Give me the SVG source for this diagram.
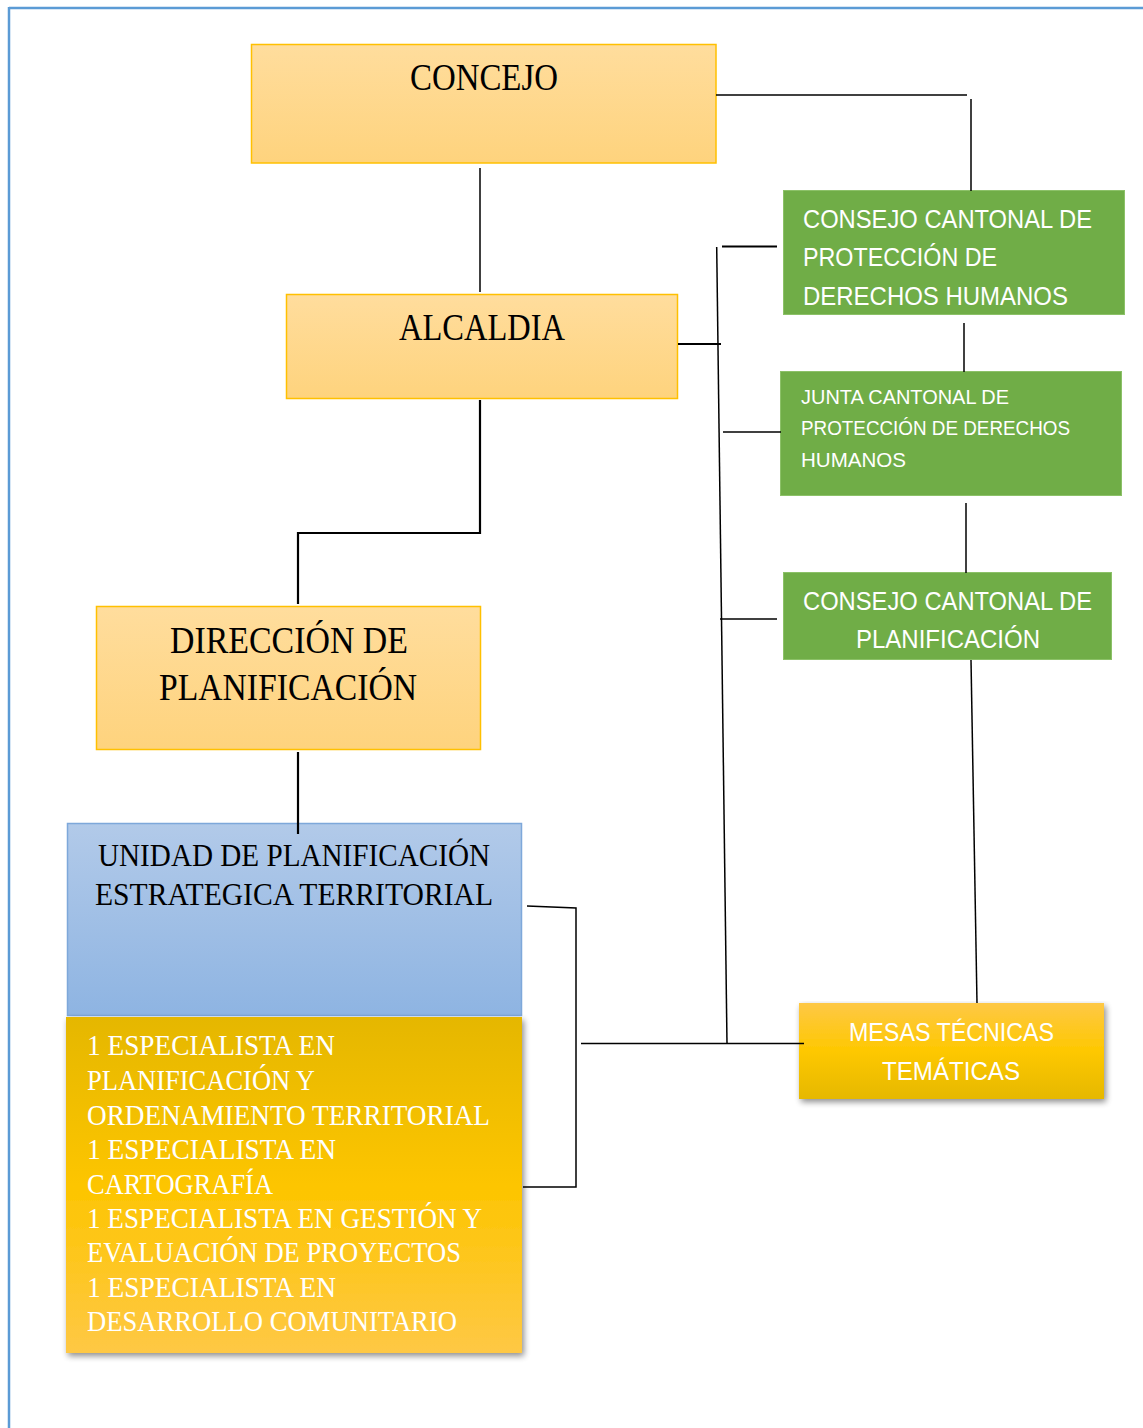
<svg xmlns="http://www.w3.org/2000/svg" width="1143" height="1428" viewBox="0 0 1143 1428">
<defs>
<linearGradient id="gOrange" x1="0" y1="0" x2="0" y2="1">
<stop offset="0" stop-color="#ffdd9d"/><stop offset="1" stop-color="#fed37d"/>
</linearGradient>
<linearGradient id="gBlue" x1="0" y1="0" x2="0" y2="1">
<stop offset="0" stop-color="#b2cae9"/><stop offset="1" stop-color="#8eb4e2"/>
</linearGradient>
<linearGradient id="gGold" x1="0" y1="0" x2="0" y2="1">
<stop offset="0" stop-color="#e5b700"/><stop offset="0.5" stop-color="#fdc500"/><stop offset="1" stop-color="#fec845"/>
</linearGradient>
<linearGradient id="gMesas" x1="0" y1="0" x2="0" y2="1">
<stop offset="0" stop-color="#fec846"/><stop offset="0.5" stop-color="#fec800"/><stop offset="1" stop-color="#e6b800"/>
</linearGradient>
<filter id="shadow" x="-5%" y="-5%" width="115%" height="115%">
<feGaussianBlur in="SourceAlpha" stdDeviation="3"/>
<feOffset dx="2" dy="3" result="b"/>
<feComponentTransfer><feFuncA type="linear" slope="0.45"/></feComponentTransfer>
<feMerge><feMergeNode/><feMergeNode in="SourceGraphic"/></feMerge>
</filter>
</defs>
<style>
.ob{fill:url(#gOrange);stroke:#ffc000;stroke-width:1.5}
.gr{fill:#70ad47;stroke:#8cc168;stroke-width:1}
.ser{font-family:"Liberation Serif","DejaVu Serif",serif;fill:#000}
.serw{font-family:"Liberation Serif","DejaVu Serif",serif;fill:#ffffff;font-size:29.5px}
.san{font-family:"Liberation Sans","DejaVu Sans",sans-serif;fill:#ffffff}
.ln{stroke:#000;stroke-width:1.5;fill:none}
.lk{stroke:#000;stroke-width:2.2;fill:none}
</style>
<rect x="0" y="0" width="1143" height="1428" fill="#ffffff"/>
<g id="page-border" fill="none" stroke="#5b9bd5" stroke-width="2.5">
<line x1="9" y1="8" x2="1143" y2="8"/>
<line x1="9" y1="7" x2="9" y2="1428"/>
</g>
<g id="concejo">
<rect class="ob" x="251.5" y="44.5" width="464.5" height="118.5"/>
<text class="ser" x="484" y="90" font-size="37" text-anchor="middle" textLength="148" lengthAdjust="spacingAndGlyphs">CONCEJO</text>
</g>
<g id="alcaldia">
<rect class="ob" x="286.5" y="294.5" width="391" height="104"/>
<text class="ser" x="482" y="340" font-size="37" text-anchor="middle" textLength="166" lengthAdjust="spacingAndGlyphs">ALCALDIA</text>
</g>
<g id="direccion">
<rect class="ob" x="96.5" y="606.5" width="384" height="143"/>
<text class="ser" x="289" y="653" font-size="37" text-anchor="middle" textLength="238" lengthAdjust="spacingAndGlyphs">DIRECCIÓN DE</text>
<text class="ser" x="288" y="700" font-size="37" text-anchor="middle" textLength="258" lengthAdjust="spacingAndGlyphs">PLANIFICACIÓN</text>
</g>
<g id="unidad">
<rect x="67.5" y="823.5" width="454" height="192" fill="url(#gBlue)" stroke="#7ea8da" stroke-width="1.5"/>
<text class="ser" x="294" y="866" font-size="32" text-anchor="middle" textLength="392" lengthAdjust="spacingAndGlyphs">UNIDAD DE PLANIFICACIÓN</text>
<text class="ser" x="294" y="905" font-size="32" text-anchor="middle" textLength="398" lengthAdjust="spacingAndGlyphs">ESTRATEGICA TERRITORIAL</text>
</g>
<g id="especialistas">
<rect x="66" y="1017" width="456" height="336" fill="url(#gGold)" filter="url(#shadow)"/>
<text class="serw" x="87" y="1055" textLength="248" lengthAdjust="spacingAndGlyphs">1 ESPECIALISTA EN</text>
<text class="serw" x="87" y="1090" textLength="228" lengthAdjust="spacingAndGlyphs">PLANIFICACIÓN Y</text>
<text class="serw" x="87" y="1125" textLength="403" lengthAdjust="spacingAndGlyphs">ORDENAMIENTO TERRITORIAL</text>
<text class="serw" x="87" y="1159" textLength="249" lengthAdjust="spacingAndGlyphs">1 ESPECIALISTA EN</text>
<text class="serw" x="87" y="1194" textLength="186" lengthAdjust="spacingAndGlyphs">CARTOGRAFÍA</text>
<text class="serw" x="87" y="1228" textLength="395" lengthAdjust="spacingAndGlyphs">1 ESPECIALISTA EN GESTIÓN Y</text>
<text class="serw" x="87" y="1262" textLength="374" lengthAdjust="spacingAndGlyphs">EVALUACIÓN DE PROYECTOS</text>
<text class="serw" x="87" y="1297" textLength="249" lengthAdjust="spacingAndGlyphs">1 ESPECIALISTA EN</text>
<text class="serw" x="87" y="1331" textLength="370" lengthAdjust="spacingAndGlyphs">DESARROLLO COMUNITARIO</text>
</g>
<g id="consejo-derechos">
<rect class="gr" x="783.5" y="190.5" width="341" height="124"/>
<text class="san" x="803" y="228" font-size="26" textLength="289" lengthAdjust="spacingAndGlyphs">CONSEJO CANTONAL DE</text>
<text class="san" x="803" y="266" font-size="26" textLength="194" lengthAdjust="spacingAndGlyphs">PROTECCIÓN DE</text>
<text class="san" x="803" y="305" font-size="26" textLength="265" lengthAdjust="spacingAndGlyphs">DERECHOS HUMANOS</text>
</g>
<g id="junta">
<rect class="gr" x="780.5" y="371.5" width="341" height="124"/>
<text class="san" x="801" y="404" font-size="20.5" textLength="208" lengthAdjust="spacingAndGlyphs">JUNTA CANTONAL DE</text>
<text class="san" x="801" y="435" font-size="20.5" textLength="269" lengthAdjust="spacingAndGlyphs">PROTECCIÓN DE DERECHOS</text>
<text class="san" x="801" y="467" font-size="20.5" textLength="105" lengthAdjust="spacingAndGlyphs">HUMANOS</text>
</g>
<g id="consejo-planificacion">
<rect class="gr" x="783.5" y="572.5" width="328" height="87"/>
<text class="san" x="947.5" y="610" font-size="26" text-anchor="middle" textLength="289" lengthAdjust="spacingAndGlyphs">CONSEJO CANTONAL DE</text>
<text class="san" x="948" y="648" font-size="26" text-anchor="middle" textLength="184" lengthAdjust="spacingAndGlyphs">PLANIFICACIÓN</text>
</g>
<g id="mesas">
<rect x="799" y="1003" width="305" height="96" fill="url(#gMesas)" filter="url(#shadow)"/>
<text class="san" x="951.5" y="1041" font-size="26" text-anchor="middle" textLength="205" lengthAdjust="spacingAndGlyphs">MESAS TÉCNICAS</text>
<text class="san" x="951" y="1080" font-size="26" text-anchor="middle" textLength="138" lengthAdjust="spacingAndGlyphs">TEMÁTICAS</text>
</g>
<g id="connectors">
<line class="ln" x1="716" y1="95" x2="967" y2="95"/>
<line class="ln" x1="971" y1="99" x2="971" y2="191"/>
<line class="ln" x1="480" y1="168" x2="480" y2="292"/>
<line class="lk" x1="678" y1="344" x2="721" y2="344"/>
<line class="ln" x1="716.7" y1="247" x2="727" y2="1044"/>
<line class="lk" x1="722" y1="246.5" x2="777" y2="246.5"/>
<line class="ln" x1="723" y1="432" x2="781" y2="432"/>
<line class="ln" x1="720" y1="619" x2="777" y2="619"/>
<line class="ln" x1="964" y1="323" x2="964" y2="372"/>
<line class="ln" x1="966" y1="503" x2="966" y2="573"/>
<line class="ln" x1="971" y1="660" x2="977" y2="1003"/>
<line class="ln" x1="581" y1="1043.5" x2="804" y2="1043.5"/>
<polyline class="ln" points="527,906 576,908 576,1187 523,1187"/>
<polyline class="lk" points="480,400 480,533 298,533 298,604"/>
<line class="lk" x1="298" y1="752" x2="298" y2="834"/>
</g>
</svg>
